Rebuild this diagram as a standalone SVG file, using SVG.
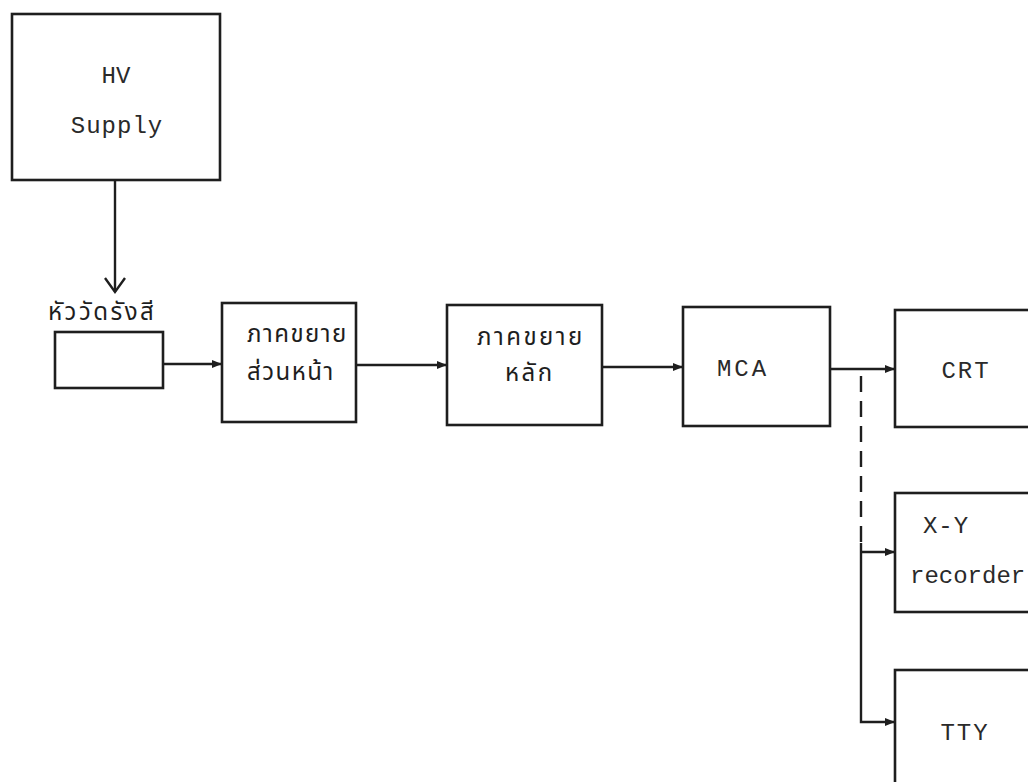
<svg xmlns="http://www.w3.org/2000/svg" width="1028" height="782" viewBox="0 0 1028 782">
<style>
.box{fill:none;stroke:#1e1e1e;stroke-width:2.6}
.ln{fill:none;stroke:#1e1e1e;stroke-width:2.4}
.txt{font-family:"Liberation Mono","DejaVu Sans Mono",monospace;font-size:24px;fill:#2a2a2a;text-anchor:middle}
.th{font-family:"Noto Sans Thai","DejaVu Sans","Noto Sans",sans-serif;font-size:24px;fill:#1e1e1e;letter-spacing:2.5px}
</style>
<defs>
<marker id="ah" viewBox="0 0 10 8" refX="10" refY="4" markerWidth="10" markerHeight="8" markerUnits="userSpaceOnUse" orient="auto">
<path d="M0,0 L10,4 L0,8 Z" fill="#1e1e1e"/>
</marker>
</defs>
<rect width="1028" height="782" fill="#fff"/>
<g id="connectors">
<line class="ln" x1="115" y1="180" x2="115" y2="292"/>
<polyline class="ln" points="105,278 115,292 125,278"/>
<line class="ln" x1="163" y1="364" x2="222" y2="364" marker-end="url(#ah)"/>
<line class="ln" x1="356" y1="365" x2="447" y2="365" marker-end="url(#ah)"/>
<line class="ln" x1="602" y1="367" x2="683" y2="367" marker-end="url(#ah)"/>
<line class="ln" x1="830" y1="369" x2="895" y2="369" marker-end="url(#ah)"/>
<line class="ln" x1="861" y1="376" x2="861" y2="543" stroke-dasharray="16,9"/>
<polyline class="ln" points="861,543 861,722 895,722" marker-end="url(#ah)"/>
<line class="ln" x1="861" y1="552" x2="895" y2="552" marker-end="url(#ah)"/>
</g>
<g id="hv-supply">
<rect class="box" x="12" y="14" width="208" height="166"/>
<text class="txt" x="116" y="83">HV</text>
<text class="txt" x="117" y="133" style="letter-spacing:1px">Supply</text>
</g>
<g id="detector">
<text class="th" x="48" y="320">หัววัดรังสี</text>
<rect class="box" x="55" y="332" width="108" height="56"/>
</g>
<g id="preamp">
<rect class="box" x="222" y="303" width="134" height="119"/>
<text class="th" x="247" y="342" style="letter-spacing:1.5px">ภาคขยาย</text>
<text class="th" x="247" y="380" style="letter-spacing:1.5px">ส่วนหน้า</text>
</g>
<g id="main-amp">
<rect class="box" x="447" y="305" width="155" height="120"/>
<text class="th" x="477" y="345">ภาคขยาย</text>
<text class="th" x="505" y="381">หลัก</text>
</g>
<g id="mca">
<rect class="box" x="683" y="307" width="147" height="119"/>
<text class="txt" x="743" y="376" style="letter-spacing:3px">MCA</text>
</g>
<g id="crt">
<rect class="box" x="895" y="310" width="150" height="117"/>
<text class="txt" x="966" y="378" style="letter-spacing:2px">CRT</text>
</g>
<g id="xy-recorder">
<rect class="box" x="895" y="493" width="150" height="119"/>
<text class="txt" x="946" y="533" style="letter-spacing:1px">X-Y</text>
<text class="txt" x="910" y="583" style="text-anchor:start">recorder</text>
</g>
<g id="tty">
<rect class="box" x="895" y="670" width="150" height="130"/>
<text class="txt" x="965" y="740" style="letter-spacing:2px">TTY</text>
</g>
</svg>
